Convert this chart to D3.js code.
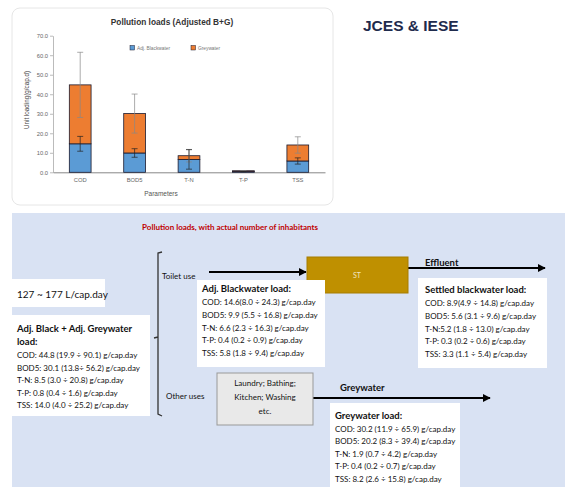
<!DOCTYPE html>
<html>
<head>
<meta charset="utf-8">
<script src="https://cdn.jsdelivr.net/npm/d3@7"></script>
<style>
html,body{margin:0;padding:0;background:#fff;}
svg{display:block;}
</style>
</head>
<body>
<svg id="c" width="565" height="487"></svg>
<script>
// ---------- chart data ----------
const categories = ["COD", "BOD5", "T-N", "T-P", "TSS"];
const blackwater = [14.6, 9.9, 6.6, 0.4, 5.8];
const greywater  = [30.2, 20.2, 1.9, 0.4, 8.2];
const blackErr   = [3.8, 2.2, 5.0, 0.1, 1.6];
const greyErr    = [16.7, 10.0, 3.2, 0.1, 4.2];
const yTicks     = [0, 10, 20, 30, 40, 50, 60, 70];
const seriesNames = ["Adj. Blackwater", "Greywater"];

// ---------- diagram text data ----------
const flowText = "127 ~ 177 L/cap.day";
const totalHead = ["Adj. Black + Adj. Greywater", "load:"];
const totalLines = [
  "COD: 44.8 (19.9 ÷ 90.1) g/cap.day",
  "BOD5: 30.1 (13.8÷ 56.2) g/cap.day",
  "T-N: 8.5 (3.0 ÷ 20.8) g/cap.day",
  "T-P: 0.8 (0.4 ÷ 1.6) g/cap.day",
  "TSS: 14.0 (4.0 ÷ 25.2) g/cap.day"
];
const blackHead = "Adj. Blackwater load:";
const blackLines = [
  "COD: 14.6(8.0 ÷ 24.3) g/cap.day",
  "BOD5: 9.9 (5.5 ÷ 16.8) g/cap.day",
  "T-N: 6.6 (2.3 ÷ 16.3) g/cap.day",
  "T-P: 0.4 (0.2 ÷ 0.9) g/cap.day",
  "TSS: 5.8 (1.8 ÷ 9.4) g/cap.day"
];
const settledHead = "Settled blackwater load:";
const settledLines = [
  "COD: 8.9(4.9 ÷ 14.8) g/cap.day",
  "BOD5: 5.6 (3.1 ÷ 9.6) g/cap.day",
  "T-N:5.2 (1.8 ÷ 13.0) g/cap.day",
  "T-P: 0.3 (0.2 ÷ 0.6) g/cap.day",
  "TSS: 3.3 (1.1 ÷ 5.4) g/cap.day"
];
const greyHead = "Greywater load:";
const greyLines = [
  "COD: 30.2 (11.9 ÷ 65.9) g/cap.day",
  "BOD5: 20.2 (8.3 ÷ 39.4) g/cap.day",
  "T-N: 1.9 (0.7 ÷ 4.2) g/cap.day",
  "T-P:  0.4 (0.2 ÷ 0.7) g/cap.day",
  "TSS: 8.2 (2.6 ÷ 15.8) g/cap.day"
];
const otherUses = ["Laundry; Bathing;", "Kitchen; Washing", "etc."];

const svg = d3.select("#c");
const BLUE = "#5b9bd5", ORANGE = "#ed7d31";
const sans = "Liberation Sans, Arial, sans-serif";
const cal = "Lato, 'Open Sans', sans-serif";

// ---------- chart panel ----------
svg.append("rect").attr("x", 12).attr("y", 8).attr("width", 321).attr("height", 197)
  .attr("rx", 8).attr("fill", "#fff").attr("stroke", "#e6e6e6").attr("stroke-width", 1);

svg.append("text").attr("x", 363).attr("y", 31).text("JCES & IESE")
  .attr("font-family", sans).attr("font-weight", "bold").attr("font-size", 15.5)
  .attr("fill", "#1f2b4d");

const x = d3.scaleBand().domain(categories).range([53, 325]).paddingInner(0.6).paddingOuter(0.3);
const y = d3.scaleLinear().domain([0, 70]).range([172.3, 35.7]);

const g = svg.append("g");
// y axis
const ya = g.append("g").attr("transform", "translate(53,0)")
  .call(d3.axisLeft(y).tickValues(yTicks).tickFormat(d3.format(".1f")).tickSize(3).tickSizeOuter(0));
ya.select(".domain").attr("stroke", "#bbb");
ya.selectAll(".tick line").attr("stroke", "#bbb");
ya.selectAll(".tick text").attr("font-family", sans).attr("font-size", 5.8).attr("fill", "#666").attr("x", -5);
// x axis
const xa = g.append("g").attr("transform", "translate(0,172.3)")
  .call(d3.axisBottom(x).tickSize(0).tickSizeOuter(0));
xa.select(".domain").attr("stroke", "#888");
xa.selectAll(".tick text").attr("font-family", sans).attr("font-size", 5.8).attr("fill", "#666").attr("dy", 7);

// bars
const data = categories.map((c, i) => ({c, b: blackwater[i], gw: greywater[i], be: blackErr[i], ge: greyErr[i]}));
const bars = g.append("g");
bars.selectAll(".bb").data(data).join("rect")
  .attr("x", d => x(d.c)).attr("width", x.bandwidth())
  .attr("y", d => y(d.b)).attr("height", d => y(0) - y(d.b))
  .attr("fill", BLUE).attr("stroke", "#1a1a2e").attr("stroke-width", 0.8);
bars.selectAll(".gb").data(data).join("rect")
  .attr("x", d => x(d.c)).attr("width", x.bandwidth())
  .attr("y", d => y(d.b + d.gw)).attr("height", d => y(d.b) - y(d.b + d.gw))
  .attr("fill", ORANGE).attr("stroke", "#1a1a2e").attr("stroke-width", 0.8);

// error bars
function errBars(getC, getE, col) {
  const e = g.append("g");
  data.forEach(d => {
    const cx = x(d.c) + x.bandwidth() / 2, c = getC(d), er = getE(d);
    e.append("line").attr("x1", cx).attr("x2", cx).attr("y1", y(c - er)).attr("y2", y(c + er))
      .attr("stroke", col).attr("stroke-width", 0.7);
    [c - er, c + er].forEach(v => e.append("line").attr("x1", cx - 3).attr("x2", cx + 3)
      .attr("y1", y(v)).attr("y2", y(v)).attr("stroke", col).attr("stroke-width", 0.7));
  });
}
errBars(d => d.b + d.gw, d => d.ge, "#888");
errBars(d => d.b, d => d.be, "#222");

// titles
svg.append("text").attr("x", 172).attr("y", 25).attr("text-anchor", "middle")
  .attr("font-family", sans).attr("font-weight", "bold").attr("font-size", 8.3).attr("fill", "#333")
  .text("Pollution loads (Adjusted B+G)");
svg.append("text").attr("x", 161).attr("y", 196).attr("text-anchor", "middle")
  .attr("font-family", sans).attr("font-size", 6.5).attr("fill", "#555").text("Parameters");
svg.append("text").attr("transform", "translate(29,100) rotate(-90)").attr("text-anchor", "middle")
  .attr("font-family", sans).attr("font-size", 6.3).attr("fill", "#444").text("Unit loading(g/cap.d)");

// legend
const lg = svg.append("g");
[[130, BLUE, seriesNames[0]], [191, ORANGE, seriesNames[1]]].forEach(([lx, col, name]) => {
  lg.append("rect").attr("x", lx).attr("y", 45.5).attr("width", 4.5).attr("height", 4.5)
    .attr("fill", col).attr("stroke", "#1a1a2e").attr("stroke-width", 0.5);
  lg.append("text").attr("x", lx + 7).attr("y", 50).attr("font-family", sans).attr("font-size", 4.8)
    .attr("fill", "#777").text(name);
});

// ---------- diagram panel ----------
svg.append("rect").attr("x", 12).attr("y", 213).attr("width", 553).attr("height", 274).attr("fill", "#d9e2f3");

svg.append("text").attr("x", 230).attr("y", 230).attr("text-anchor", "middle")
  .attr("font-family", cal).attr("font-weight", "bold").attr("font-size", 8).attr("fill", "#c00000")
  .text("Pollution loads, with actual number of inhabitants");

svg.append("defs").append("marker").attr("id", "ah").attr("viewBox", "0 0 10 10")
  .attr("refX", 9).attr("refY", 5).attr("markerWidth", 4).attr("markerHeight", 4).attr("orient", "auto")
  .append("path").attr("d", "M0,0L10,5L0,10z").attr("fill", "#000");

function box(x0, y0, w, h, fill, stroke) {
  svg.append("rect").attr("x", x0).attr("y", y0).attr("width", w).attr("height", h)
    .attr("fill", fill).attr("stroke", stroke || "none").attr("stroke-width", 1);
}
function txt(tx, ty, s, size, bold, anchor, col) {
  svg.append("text").attr("x", tx).attr("y", ty).text(s).attr("font-family", cal)
    .attr("font-size", size).attr("font-weight", bold ? "bold" : "normal")
    .attr("text-anchor", anchor || "start").attr("fill", col || "#111");
}
function arrow(x1, y1, x2) {
  svg.append("line").attr("x1", x1).attr("y1", y1).attr("x2", x2).attr("y2", y1)
    .attr("stroke", "#000").attr("stroke-width", 2).attr("marker-end", "url(#ah)");
}

// left boxes
box(12, 279, 93, 28, "#fff");
txt(17, 298, flowText, 10, false);
box(12, 315, 138, 101, "#fff");
txt(17, 332, totalHead[0], 9.5, true);
txt(17, 345, totalHead[1], 9.5, true);
totalLines.forEach((s, i) => txt(17, 358 + i * 12.5, s, 8));

// bracket
svg.append("path").attr("d", "M162,252 L158,253 L158,414 L162,416 M158,337 L154,338")
  .attr("fill", "none").attr("stroke", "#333").attr("stroke-width", 1.3);
txt(162, 279, "Toilet use", 8);
txt(166, 399, "Other uses", 8);

// arrows
arrow(209, 272, 306);
arrow(408, 268, 545);
arrow(313, 398, 490);

// ST box
box(307, 257, 101, 36, "#bf9000", "#a67c00");
txt(357, 278, "ST", 7, false, "middle", "#f2e6c0");
txt(425, 266, "Effluent", 9.5, true);

// adj blackwater box
box(197, 280, 128, 87, "#fff");
txt(202, 292, blackHead, 9.5, true);
blackLines.forEach((s, i) => txt(202, 305 + i * 12.8, s, 8));

// settled box
box(418, 278, 129, 90, "#fff");
txt(425, 293, settledHead, 9.5, true);
settledLines.forEach((s, i) => txt(425, 306 + i * 12.8, s, 8));

// other uses box
box(217, 373, 96, 52, "#e9e9e9", "#999");
otherUses.forEach((s, i) => txt(265, 386 + i * 14, s, 8, false, "middle"));
txt(340, 391, "Greywater", 9.5, true);

// greywater box
box(330, 403, 130, 84, "#fff");
txt(335, 419, greyHead, 9.5, true);
greyLines.forEach((s, i) => txt(335, 432 + i * 12.4, s, 8));
</script>
</body>
</html>
